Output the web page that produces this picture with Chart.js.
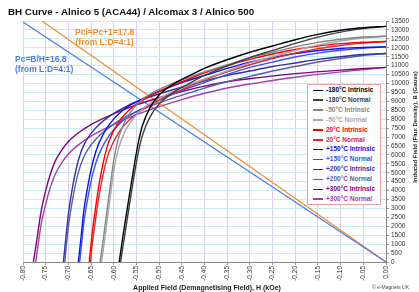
<!DOCTYPE html>
<html>
<head>
<meta charset="utf-8">
<script src="https://cdn.jsdelivr.net/npm/chart.js@4.4.0/dist/chart.umd.min.js"></script>
<style>
  body { margin: 0; background: #fff; }
  #wrap { position: relative; width: 419px; height: 292px; font-family: "Liberation Sans", Arial, sans-serif; }
  #bh { position: absolute; left: 0; top: 0; }
  .t { position: absolute; white-space: nowrap; font-weight: bold; line-height: 1; }
  #legend { position: absolute; left: 307px; top: 84px; width: 72px; height: 119px; border: 1px solid #e7a3a3; background: #fff; }
  .row { position: absolute; left: 5px; height: 10px; font-size: 6.5px; font-weight: bold; white-space: nowrap; }
  .row i { display: inline-block; width: 10px; height: 1.5px; vertical-align: middle; margin-right: 3px; }
</style>
</head>
<body>
<div id="wrap">
  <canvas id="bh" width="419" height="292"></canvas>
  <div class="t" style="left:8px;top:7px;font-size:9.8px;color:#111">BH Curve - Alnico 5 (ACA44) / Alcomax 3 / Alnico 500</div>
  <div class="t" style="left:75px;top:27px;font-size:8.5px;color:#f28a2c;text-align:center;line-height:10px">Pci=Pc+1=17.8<br>(from L:D=4:1)</div>
  <div class="t" style="left:15px;top:55px;font-size:8.5px;color:#4d7ce6;line-height:9.5px">Pc=B/H=16.8<br>(from L:D=4:1)</div>
  <div id="legend"></div>
  <div class="t" style="left:207px;top:284px;font-size:7px;color:#222;transform:translateX(-50%)">Applied Field (Demagnetising Field), H (kOe)</div>
  <div class="t" style="left:415px;top:127px;font-size:6px;color:#222;transform:translate(-50%,-50%) rotate(-90deg)">Induced Field (Flux Density), B (Gauss)</div>
  <div class="t" style="left:372px;top:285px;font-size:5px;font-weight:normal;color:#444">© e-Magnets UK</div>
</div>
<script>
// H in kOe, B in Gauss
const labels = ['-180°C Intrinsic', '-180°C Normal', '-50°C Intrinsic', '-50°C Normal',
  '20°C Intrinsic', '20°C Normal', '+150°C Intrinsic', '+150°C Normal',
  '+200°C Intrinsic', '+200°C Normal', '+300°C Intrinsic', '+300°C Normal'];
const colours = ['#000000', '#404040', '#858585', '#a8a8a8', '#ff0000', '#e02828',
  '#1010ee', '#3a50f0', '#333399', '#5d5da6', '#800080', '#a040b0'];

const hM180i = [-0.588,-0.580,-0.571,-0.562,-0.553,-0.545,-0.536,-0.52,-0.50,-0.47,-0.44,-0.40,-0.35,-0.30,-0.25,-0.20,-0.15,-0.10,-0.05,0];
const bM180i = [0,1400,2860,4300,5700,6800,7700,8650,9350,9950,10350,10850,11330,11750,12100,12450,12750,12980,13120,13200];
const hM180n = [-0.585,-0.580,-0.571,-0.562,-0.553,-0.545,-0.536,-0.52,-0.50,-0.47,-0.44,-0.40,-0.35,-0.30,-0.25,-0.20,-0.15,-0.10,-0.05,0];
const bM180n = [0,820,2290,3740,5150,6250,7160,8130,8850,9480,9910,10450,10980,11450,11850,12250,12600,12880,13070,13200];

const hM50i = [-0.630,-0.622,-0.615,-0.608,-0.600,-0.590,-0.575,-0.55,-0.52,-0.48,-0.44,-0.40,-0.35,-0.30,-0.25,-0.20,-0.15,-0.10,-0.05,0];
const bM50i = [0,1500,2860,4200,5700,6900,7900,8800,9400,9900,10300,10650,11050,11450,11750,12050,12300,12480,12600,12650];
const hM50n = [-0.627,-0.622,-0.615,-0.608,-0.600,-0.590,-0.575,-0.55,-0.52,-0.48,-0.44,-0.40,-0.35,-0.30,-0.25,-0.20,-0.15,-0.10,-0.05,0];
const bM50n = [0,880,2250,3590,5100,6310,7330,8250,8880,9420,9860,10250,10700,11150,11500,11850,12150,12380,12550,12650];

const h20i = [-0.654,-0.648,-0.641,-0.632,-0.622,-0.610,-0.59,-0.56,-0.52,-0.48,-0.44,-0.40,-0.35,-0.30,-0.25,-0.20,-0.15,-0.10,-0.05,0];
const b20i = [0,1500,2860,4400,5700,6800,7800,8650,9300,9800,10200,10600,11000,11350,11650,11900,12100,12230,12310,12350];
const h20n = [-0.651,-0.648,-0.641,-0.632,-0.622,-0.610,-0.59,-0.56,-0.52,-0.48,-0.44,-0.40,-0.35,-0.30,-0.25,-0.20,-0.15,-0.10,-0.05,0];
const b20n = [0,850,2220,3770,5080,6190,7210,8090,8780,9320,9760,10200,10650,11050,11400,11700,11950,12130,12260,12350];

const h150i = [-0.678,-0.672,-0.666,-0.656,-0.645,-0.632,-0.61,-0.58,-0.54,-0.50,-0.45,-0.40,-0.35,-0.30,-0.25,-0.20,-0.15,-0.10,-0.05,0];
const b150i = [0,1400,2860,4400,5700,6700,7700,8500,9100,9550,10050,10450,10850,11200,11450,11680,11850,11960,12020,12050];
const h150n = [-0.675,-0.672,-0.666,-0.656,-0.645,-0.632,-0.61,-0.58,-0.54,-0.50,-0.45,-0.40,-0.35,-0.30,-0.25,-0.20,-0.15,-0.10,-0.05,0];
const b150n = [0,730,2190,3740,5060,6070,7090,7920,8560,9050,9600,10050,10500,10900,11200,11480,11700,11860,11970,12050];

const h200i = [-0.711,-0.705,-0.699,-0.690,-0.678,-0.665,-0.64,-0.61,-0.57,-0.52,-0.47,-0.42,-0.36,-0.30,-0.25,-0.20,-0.15,-0.10,-0.05,0];
const b200i = [0,1500,2860,4300,5700,6600,7500,8150,8750,9250,9650,10000,10400,10700,10950,11150,11350,11500,11620,11680];
const h200n = [-0.708,-0.705,-0.699,-0.690,-0.678,-0.665,-0.64,-0.61,-0.57,-0.52,-0.47,-0.42,-0.36,-0.30,-0.25,-0.20,-0.15,-0.10,-0.05,0];
const b200n = [0,800,2160,3610,5020,5940,6860,7540,8180,8730,9180,9580,10040,10400,10700,10950,11200,11400,11570,11680];

const h300i = [-0.777,-0.768,-0.760,-0.750,-0.740,-0.729,-0.715,-0.700,-0.68,-0.65,-0.60,-0.55,-0.50,-0.45,-0.40,-0.35,-0.28,-0.20,-0.10,0];
const b300i = [0,1500,2850,4000,4900,5650,6250,6750,7200,7700,8300,8800,9200,9550,9850,10100,10330,10550,10750,10900];
const h300n = [-0.772,-0.768,-0.760,-0.750,-0.740,-0.729,-0.715,-0.700,-0.68,-0.65,-0.60,-0.55,-0.50,-0.45,-0.40,-0.35,-0.28,-0.20,-0.10,0];
const b300n = [0,730,2090,3250,4160,4920,5540,6050,6520,7050,7700,8250,8700,9100,9450,9750,10050,10350,10650,10900];

// load lines (permeance coefficient)
const hPc = [-0.80, 0];
const bPc = [13440, 0];
const hPci = [-0.758, 0];
const bPci = [13500, 0];

const curvesH = [hM180i, hM180n, hM50i, hM50n, h20i, h20n, h150i, h150n, h200i, h200n, h300i, h300n];
const curvesB = [bM180i, bM180n, bM50i, bM50n, b20i, b20n, b150i, b150n, b200i, b200n, b300i, b300n];

function pts(hs, bs) { return hs.map((h, i) => ({ x: h, y: bs[i] })); }

var datasets = [];
for (var i = 0; i < labels.length; i++) {
  datasets.push({
    label: labels[i],
    data: pts(curvesH[i], curvesB[i]),
    borderColor: colours[i],
    borderWidth: 1.4,
    cubicInterpolationMode: 'monotone'
  });
}
datasets.push({ label: 'Pc', data: pts(hPc, bPc), borderColor: '#4d7ce6', borderWidth: 1.2 });
datasets.push({ label: 'Pci', data: pts(hPci, bPci), borderColor: '#f28a2c', borderWidth: 1.2 });

// legend box drawn as html
var lg = document.getElementById('legend');
labels.forEach(function (l, i) {
  var r = document.createElement('div');
  r.className = 'row';
  r.style.top = (1 + i * 9.9) + 'px';
  r.style.color = colours[i];
  r.innerHTML = '<i style="background:' + colours[i] + '"></i>' + l;
  lg.appendChild(r);
});

Chart.defaults.font.family = '"Liberation Sans", Arial, sans-serif';

new Chart(document.getElementById('bh'), {
  type: 'scatter',
  data: { datasets: datasets },
  options: {
    responsive: false,
    animation: false,
    showLine: true,
    elements: { point: { radius: 0 } },
    layout: { padding: { left: 23, top: 21, right: 0, bottom: 0 } },
    plugins: { legend: { display: false }, tooltip: { enabled: false } },
    scales: {
      x: {
        type: 'linear', min: -0.8, max: 0,
        ticks: {
          stepSize: 0.05, minRotation: 90, maxRotation: 90, padding: 1, autoSkip: false,
          color: '#333', font: { size: 6.5 },
          callback: function (v) { return (Math.abs(v) < 1e-9 ? 0 : v).toFixed(2); }
        },
        grid: { color: '#dccdf3', tickColor: '#999', tickLength: 3 },
        border: { color: '#888' },
        afterFit: function (s) { s.height = 30; }
      },
      y: {
        position: 'right', min: 0, max: 13500,
        ticks: {
          stepSize: 500, padding: 2, autoSkip: false, color: '#333', font: { size: 6.5 },
          callback: function (v) { return String(Math.round(v)); }
        },
        grid: { color: '#c9ecf0', tickColor: '#999', tickLength: 3 },
        border: { color: '#888' },
        afterFit: function (s) { s.width = 33; }
      }
    }
  }
});
</script>
</body>
</html>
